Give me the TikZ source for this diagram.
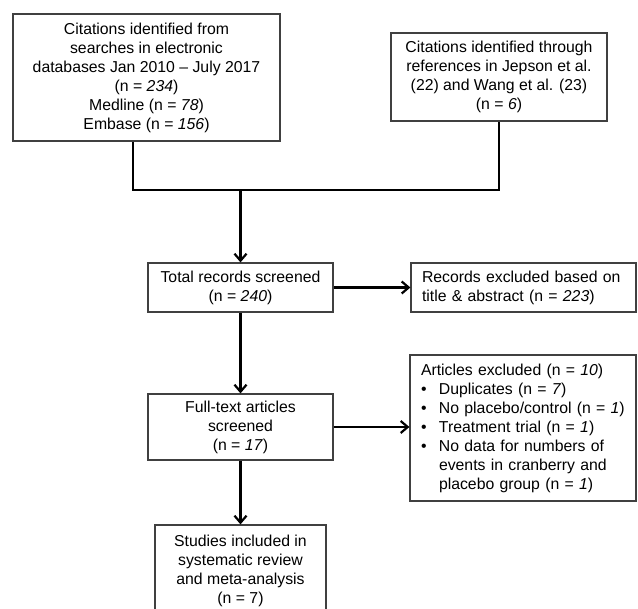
\documentclass[tikz,border=0pt]{standalone}
\usepackage{fontspec}
\setmainfont{Liberation Sans}
\usetikzlibrary{arrows.meta}
\begin{document}
\begin{tikzpicture}[x=1pt,y=-1pt,
  box/.style={draw=black!75, line width=1.2pt, rectangle, inner sep=0pt,
    font=\fontsize{15.8}{19}\selectfont, align=center},
  lbox/.style={box, align=left, inner xsep=11pt},
  conn/.style={line width=2.4pt, black},
  arr/.style={conn, -{Straight Barb[length=7pt,width=12pt,line width=2.2pt]}}
]
\useasboundingbox (0,0) rectangle (638,609);
\clip (0,0) rectangle (638,609);
\node[box, minimum width=267pt, minimum height=127pt] (b1) at (146.5,77.5)
  {Citations identified from\\searches in electronic\\databases Jan 2010 -- July 2017\\(n = \textit{234})\\Medline (n = \textit{78})\\Embase (n = \textit{156})};
\node[box, minimum width=216pt, minimum height=88pt] (b2) at (499,77)
  {Citations identified through\\references in Jepson et al.\\(22) and Wang et al. (23)\\(n = \textit{6})};
\node[box, minimum width=185pt, minimum height=49pt] (b3) at (240.5,287.5)
  {Total records screened\\(n = \textit{240})};
\node[lbox, text width=203pt, minimum height=49pt] (b4) at (523.5,287.5)
  {Records excluded based on\\title \& abstract (n = \textit{223})};
\node[box, minimum width=185pt, minimum height=66pt] (b5) at (240.5,427)
  {Full-text articles\\screened\\(n = \textit{17})};
\node[lbox, text width=204pt, minimum height=146pt] (b6) at (523,428)
  {Articles excluded (n = \textit{10})\\
   \makebox[18pt][l]{\textbullet}Duplicates (n = \textit{7})\\
   \makebox[18pt][l]{\textbullet}No placebo/control (n = \textit{1})\\
   \makebox[18pt][l]{\textbullet}Treatment trial (n = \textit{1})\\
   \makebox[18pt][l]{\textbullet}No data for numbers of\\
   \hspace*{18pt}events in cranberry and\\
   \hspace*{18pt}placebo group (n = \textit{1})};
\node[box, minimum width=171pt, minimum height=91pt] (b7) at (240.5,570.5)
  {Studies included in\\systematic review\\and meta-analysis\\(n = 7)};
\coordinate (l) at (133,190);
\coordinate (j) at (240.5,190);
\draw[conn] (b1.south -| l) -- (l) -- (b2.south |- l) -- (b2.south);
\draw[arr] (j) -- (b3.north);
\draw[arr] (b3.east) -- (b4.west);
\draw[arr] (b3.south) -- (b5.north);
\draw[arr] (b5.east) -- (b5.east -| b6.west);
\draw[arr] (b5.south) -- (b7.north);
\end{tikzpicture}
\end{document}
